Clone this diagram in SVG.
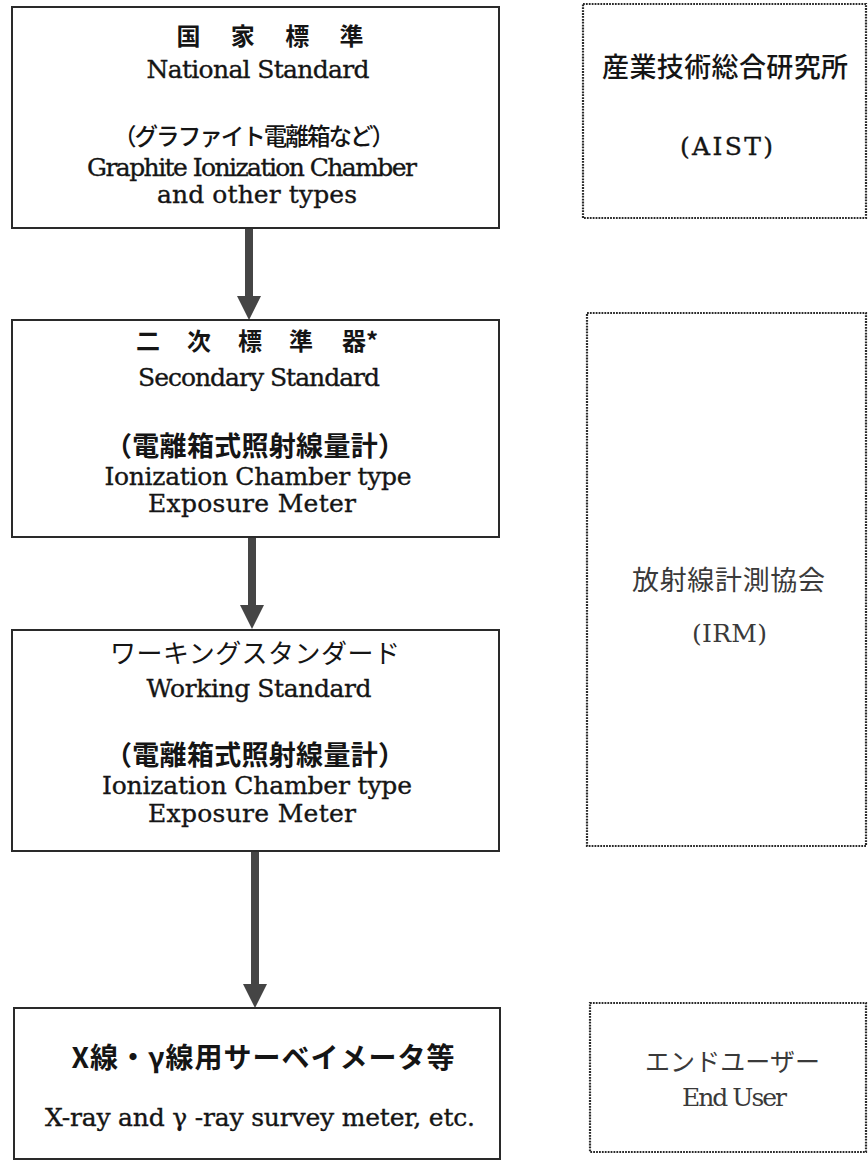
<svg xmlns="http://www.w3.org/2000/svg" width="868" height="1163" viewBox="0 0 868 1163">
<style>
.box{fill:#fff;stroke:#2a2a2a;stroke-width:2}
.dbox{fill:#fff;stroke:#2a2a2a;stroke-width:2.2;stroke-dasharray:1.8 1.1}
.en{font-family:"DejaVu Serif","Liberation Serif",serif;font-size:25px;fill:#151515;stroke:#151515;stroke-width:0.35;text-anchor:middle}
.jm{font-family:"Noto Sans CJK JP",sans-serif;fill:#151515;text-anchor:middle}
.jb{font-family:"Noto Sans CJK JP",sans-serif;font-weight:bold;fill:#151515;text-anchor:middle}
.gray{fill:#3a3a3a;stroke:none}
.arrow{fill:#454545}
</style>
<rect x="0" y="0" width="868" height="1163" fill="#fff"/>
<g id="connectors">
<path class="arrow" d="M245,228 L253,228 L253,296 L261,296 L249,320 L237,296 L245,296 Z"/>
<path class="arrow" d="M248,537 L256,537 L256,605 L264,605 L252,629 L240,605 L248,605 Z"/>
<path class="arrow" d="M251,851 L259,851 L259,984 L267,984 L255,1008 L243,984 L251,984 Z"/>
</g>
<g id="national-standard">
<rect class="box" x="12" y="7" width="487" height="221"/>
<text class="jm" font-size="24" font-weight="bold" x="188.5 242.8 297.2 351.5" y="45">国家標準</text>
<text class="en" x="258" y="78" textLength="223">National Standard</text>
<text class="jm" font-size="23.5" font-weight="500" x="254" y="145" textLength="282">（グラファイト電離箱など）</text>
<text class="en" x="252" y="176" textLength="330">Graphite Ionization Chamber</text>
<text class="en" x="257" y="203" textLength="200">and other types</text>
</g>
<g id="secondary-standard">
<rect class="box" x="12" y="320" width="487" height="217"/>
<text class="jm" font-size="24" font-weight="bold" x="148 199 250 301 360" y="350">二次標準器*</text>
<text class="en" x="259" y="386" textLength="242">Secondary Standard</text>
<text class="jb" font-size="27" x="255" y="456" textLength="300">（電離箱式照射線量計）</text>
<text class="en" x="258" y="485" textLength="307">Ionization Chamber type</text>
<text class="en" x="252" y="512" textLength="208">Exposure Meter</text>
</g>
<g id="working-standard">
<rect class="box" x="12" y="630" width="487" height="221"/>
<text class="jm" font-size="26" x="255" y="663" textLength="290">ワーキングスタンダード</text>
<text class="en" x="259" y="697" textLength="225">Working Standard</text>
<text class="jb" font-size="27" x="255" y="765" textLength="300">（電離箱式照射線量計）</text>
<text class="en" x="257" y="794" textLength="310">Ionization Chamber type</text>
<text class="en" x="252" y="822" textLength="208">Exposure Meter</text>
</g>
<g id="survey-meter">
<rect class="box" x="14" y="1008" width="486" height="151"/>
<text class="jb" font-family="DejaVu Serif,Noto Sans CJK JP,sans-serif" font-size="28" x="263" y="1068" textLength="383">X線・γ線用サーベイメータ等</text>
<text class="en" font-size="20" stroke-width="0" x="260" y="1126" textLength="430">X-ray and γ -ray survey meter, etc.</text>
</g>
<g id="aist">
<rect class="dbox" x="583" y="4" width="283" height="214"/>
<text class="jm" font-size="27" font-weight="500" x="725" y="77" textLength="246">産業技術総合研究所</text>
<text class="en" font-size="27" x="726.5" y="155" textLength="93">(AIST)</text>
</g>
<g id="irm">
<rect class="dbox" x="587" y="313" width="279" height="533"/>
<text class="jm gray" font-size="27" x="728.5" y="590" textLength="193">放射線計測協会</text>
<text class="en gray" font-size="25" x="729.5" y="642" textLength="75">(IRM)</text>
</g>
<g id="end-user">
<rect class="dbox" x="590" y="1003" width="276" height="149"/>
<text class="jm gray" font-size="25" x="732.5" y="1071" textLength="175">エンドユーザー</text>
<text class="en gray" font-size="23" x="734.5" y="1106" textLength="105">End User</text>
</g>
</svg>
